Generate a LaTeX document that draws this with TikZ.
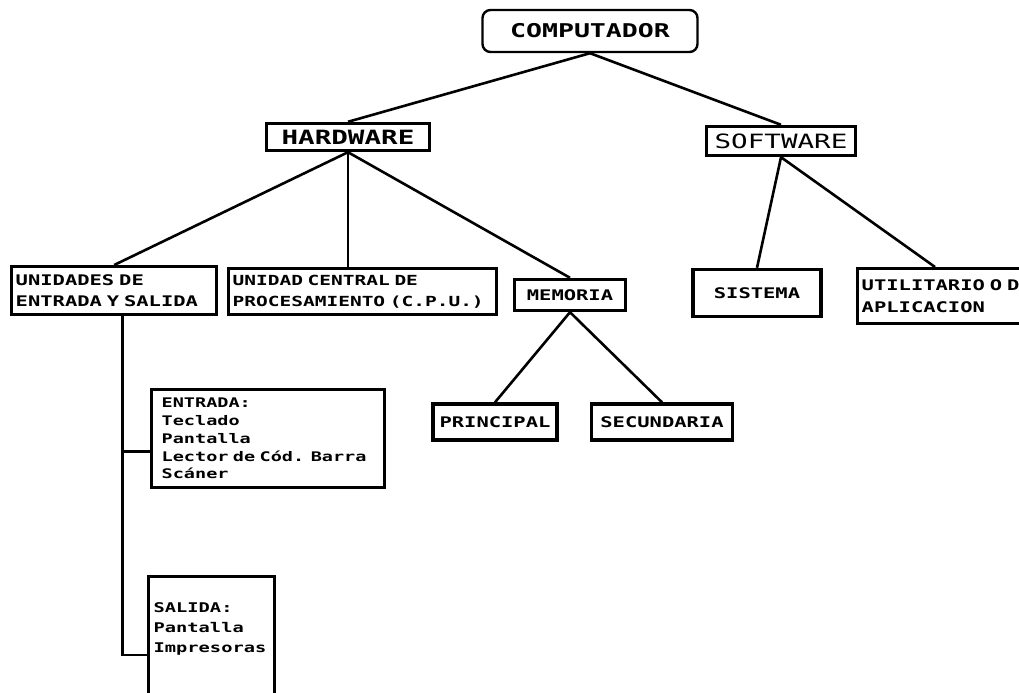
\documentclass[tikz,border=0pt]{standalone}
\usepackage{fontspec}
\usepackage{tikz}
\usetikzlibrary{positioning}
\newfontfamily\pixfont[FakeStretch=1.4]{DejaVu Sans Mono}
\newlength\pxl
\setlength\pxl{0.025cm}
\tikzstyle{link} = [line width=2.6\pxl]
\tikzstyle{box} = [
    rectangle, draw=black, line width=3.4\pxl, inner xsep=4\pxl, inner ysep=0pt,
    align=left, font=\pixfont\bfseries\fontsize{10.4}{15}\selectfont]
\tikzstyle{title} = [
    rectangle, rounded corners=8\pxl, draw=black, line width=2.4\pxl,
    font=\pixfont\bfseries\fontsize{13.5}{16}\selectfont]
\tikzstyle{list} = [box, anchor=north west, inner xsep=10\pxl,
    font=\pixfont\bfseries\fontsize{9.4}{12.6}\selectfont]

\begin{document}
\begin{tikzpicture}[x=0.025cm, y=-0.025cm]
\useasboundingbox (0,0) rectangle (1019,692);
\clip (0,0) rectangle (1019,692);

\node (comp) [title, minimum width=215\pxl, minimum height=42\pxl] at (590,31) {COMPUTADOR};

\node (hw) [box, minimum width=163\pxl, minimum height=27\pxl,
    font=\pixfont\bfseries\fontsize{14}{16}\selectfont] at (348,137) {HARDWARE};
\node (sw) [box, minimum width=149\pxl, minimum height=29\pxl,
    font=\pixfont\fontsize{14}{16}\selectfont] at (781,141) {SOFTWARE};

\node (ues) [box, anchor=north west, text width=197\pxl, minimum height=48\pxl] at (10,265) {
    UNIDADES DE \\
    ENTRADA Y SALIDA
};
\node (ucp) [box, anchor=north west, text width=260\pxl, minimum height=46\pxl,
    font=\pixfont\bfseries\fontsize{9.9}{15}\selectfont] at (227,267) {
    UNIDAD CENTRAL DE \\
    PROCESAMIENTO (C.P.U.)
};
\node (mem) [box, minimum width=111\pxl, minimum height=31\pxl] at (570,295) {MEMORIA};
\node (sis) [box, minimum width=128\pxl, minimum height=47\pxl] at (757,293) {SISTEMA};
\node (util) [box, anchor=north west, text width=192\pxl, minimum height=55\pxl] at (856,267) {
    UTILITARIO O DE \\
    APLICACION
};

\node (pri) [box, minimum width=124\pxl, minimum height=36\pxl] at (495,422) {PRINCIPAL};
\node (sec) [box, minimum width=141\pxl, minimum height=36\pxl] at (662,422) {SECUNDARIA};

\node (ent) [list, text width=213\pxl, minimum height=98\pxl] at (150,388) {
    ENTRADA: \\
    Teclado \\
    Pantalla \\
    Lector de Cód. Barra \\
    Scáner
};
\node (sal) [list, inner xsep=5\pxl, text width=116\pxl, text height=36\pxl, text depth=100\pxl,
    font=\pixfont\bfseries\fontsize{9.5}{14}\selectfont] at (147,575) {
    SALIDA: \\
    Pantalla \\
    Impresoras
};

\coordinate (trunk) at ([xshift=8\pxl]ues.south);
\coordinate (entin) at ([yshift=-13\pxl]ent.west);
\coordinate (salin) at (trunk |- 0,655);

\draw [link] (comp.south) -- (hw.north);
\draw [link] (comp.south) -- (sw.north);
\draw [link] (hw.south) -- (ues.north);
\draw [link] (hw.south) -- (hw.south |- ucp.north);
\draw [link] (hw.south) -- (mem.north);
\draw [link] (sw.south) -- (sis.north);
\draw [link] (sw.south) -- ([xshift=79\pxl]util.north west);
\draw [link] (mem.south) -- (pri.north);
\draw [link] (mem.south) -- (sec.north);
\draw [link] (trunk) -- (salin) -- (salin -| sal.west);
\draw [link] (trunk |- entin) -- (entin);
\end{tikzpicture}
\end{document}
